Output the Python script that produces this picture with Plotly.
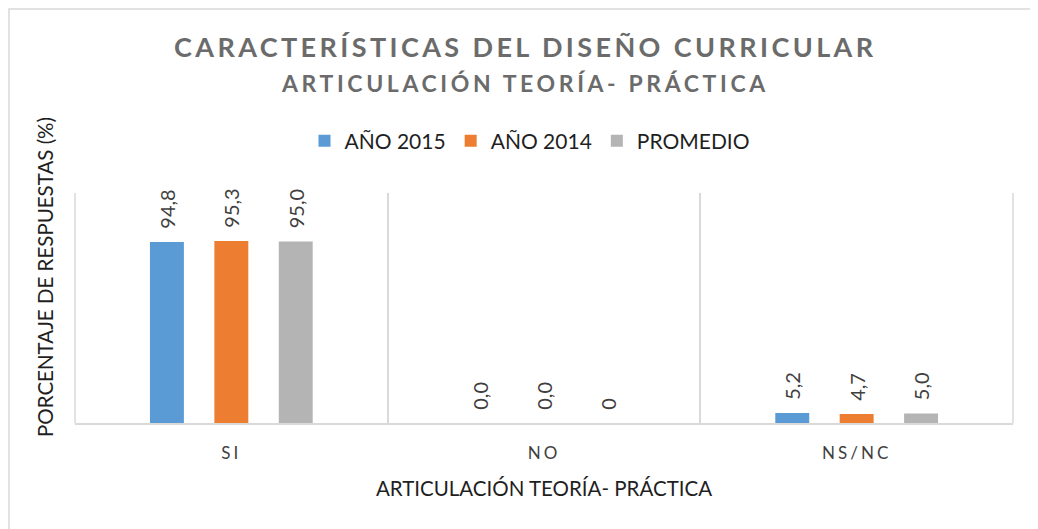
import plotly.graph_objects as go

categories = ["SI", "NO", "NS/NC"]
series_names = ["AÑO 2015", "AÑO 2014", "PROMEDIO"]
values_2015 = [94.8, 0.0, 5.2]
values_2014 = [95.3, 0.0, 4.7]
values_prom = [95.0, 0.0, 5.0]
labels_2015 = ["94,8", "0,0", "5,2"]
labels_2014 = ["95,3", "0,0", "4,7"]
labels_prom = ["95,0", "0", "5,0"]
colors = ["#5B9BD5", "#ED7D31", "#B4B4B4"]

FONT = "Lato"
OFF = 8  # page body margin
W, H = 1038 - OFF, 529 - OFF
# plot area in screen pixels: x 75..1013, y 193..423
L = 75 - OFF
R = W - (1013 - OFF)
T = 193 - OFF
B = H - (423 - OFF)
PW, PH = W - L - R, H - T - B

def px_x(x):
    return (x - OFF - L) / PW

def px_y(y):
    return (H - B - (y - OFF)) / PH

fig = go.Figure()
for name, vals, labs, col in zip(series_names,
                                 [values_2015, values_2014, values_prom],
                                 [labels_2015, labels_2014, labels_prom],
                                 colors):
    fig.add_trace(go.Bar(
        name=name, x=categories, y=vals,
        text=["\u00a0\u00a0" + s for s in labs],
        marker=dict(color=col, line=dict(width=0)),
        textposition="outside", textangle=-90, constraintext="none",
        cliponaxis=False,
        textfont=dict(family=FONT, size=20, color="#404040"),
    ))

spaced = ["<span style='letter-spacing:3px'>%s</span>" % c for c in categories]

fig.update_layout(
    width=W, height=H,
    margin=dict(l=L, r=R, t=T, b=B, pad=0),
    paper_bgcolor="white", plot_bgcolor="white",
    barmode="group", bargap=0.382, bargroupgap=0.473,
    showlegend=True,
    legend=dict(orientation="h", x=px_x(530), xanchor="center",
                y=px_y(141), yanchor="middle",
                font=dict(family=FONT, size=21, color="#1F1F1F"),
                traceorder="normal"),
    font=dict(family=FONT),
    xaxis=dict(type="category", tickson="boundaries", showgrid=True,
               gridcolor="#D9D9D9", gridwidth=1.5,
               showline=True, linecolor="#D9D9D9", linewidth=1.5,
               ticks="", tickvals=categories, ticktext=spaced,
               ticklabelstandoff=14,
               tickfont=dict(family=FONT, size=17, color="#404040"),
               range=[-0.5, 2.5],
               title=dict(text="ARTICULACIÓN TEORÍA- PRÁCTICA",
                          font=dict(family=FONT, size=20.5, color="#1F1F1F"),
                          standoff=19)),
    yaxis=dict(range=[0, 120.4], showgrid=False, showticklabels=False,
               zeroline=False, showline=False, ticks=""),
    annotations=[
        dict(text="<span style='letter-spacing:3.4px'>CARACTERÍSTICAS DEL DISEÑO CURRICULAR</span>",
             xref="paper", yref="paper", x=px_x(525), y=px_y(47),
             xanchor="center", yanchor="middle", showarrow=False,
             font=dict(family=FONT, size=27, color="#6B6B6B", weight="bold")),
        dict(text="<span style='letter-spacing:3.6px'>ARTICULACIÓN TEORÍA- PRÁCTICA</span>",
             xref="paper", yref="paper", x=px_x(525), y=px_y(83),
             xanchor="center", yanchor="middle", showarrow=False,
             font=dict(family=FONT, size=23, color="#6B6B6B", weight="bold")),
        dict(text="PORCENTAJE DE RESPUESTAS (%)", textangle=-90,
             xref="paper", yref="paper", x=px_x(45), y=px_y(277),
             xanchor="center", yanchor="middle", showarrow=False,
             font=dict(family=FONT, size=20.5, color="#1F1F1F")),
    ],
    shapes=[
        dict(type="path", xref="paper", yref="paper",
             path="M %f %f L %f %f L %f %f" % (px_x(9), px_y(540), px_x(9), px_y(9), px_x(1050), px_y(9)),
             line=dict(color="#D9D9D9", width=1.5)),
        dict(type="line", xref="paper", yref="paper",
             x0=1, x1=1, y0=0, y1=1, line=dict(color="#D9D9D9", width=1.5)),
        dict(type="line", xref="paper", yref="paper",
             x0=0, x1=0, y0=0, y1=1, line=dict(color="#D9D9D9", width=1.5)),
    ],
)

fig.write_html("out.html")
